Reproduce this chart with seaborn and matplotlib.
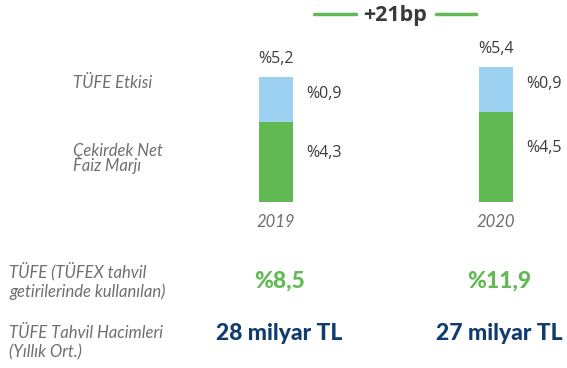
import matplotlib
matplotlib.use("Agg")
import matplotlib.pyplot as plt
import seaborn as sns
import pandas as pd
from matplotlib.lines import Line2D
from matplotlib.transforms import blended_transform_factory

# Data
years = ["2019", "2020"]
core_margin = [4.3, 4.5]        # Çekirdek Net Faiz Marjı
cpi_effect = [0.9, 0.9]         # TÜFE Etkisi
cpi_rate = ["%8,5", "%11,9"]    # TÜFE (TÜFEX tahvil getirilerinde kullanılan)
bond_volume = ["28 milyar TL", "27 milyar TL"]
spread_label = "+21bp"

GREEN = "#60B953"
BLUE = "#9DD1F1"
NAVY = "#0F3C6C"
GRAY = "#6E6E6E"
DARK = "#3A3A3A"

sns.set_theme(style="white")
plt.rcParams["font.family"] = ["Open Sans", "DejaVu Sans"]
LATO = ["Lato", "DejaVu Sans"]

W, H = 567, 368
fig = plt.figure(figsize=(W / 100, H / 100), dpi=100)

# bar axes: truncated value axis, bars start at 2.7
base_px = 202
px_per_unit = 50
ymin = 2.7
ax = fig.add_axes([0, (H - base_px) / H, 1, base_px / H])

df = pd.DataFrame({
    "year": years,
    "core": core_margin,
    "cpi": cpi_effect,
})
df["total"] = df["core"] + df["cpi"]

bar_w = 34 / 220
sns.barplot(data=df, x="year", y="total", order=years, color=BLUE,
            saturation=1, width=bar_w, ax=ax, linewidth=0)
sns.barplot(data=df, x="year", y="core", order=years, color=GREEN,
            saturation=1, width=bar_w, ax=ax, linewidth=0)

ax.set_xlim(-276 / 220, (W - 276) / 220)
ax.set_ylim(ymin, ymin + base_px / px_per_unit)
ax.axis("off")

fmt = lambda v: "%" + f"{v:.1f}".replace(".", ",")

for i, row in df.iterrows():
    ax.text(i, row["total"] + 0.36, fmt(row["total"]), ha="center", va="center",
            fontsize=11.5, color=DARK)
    ax.text(i + 0.136, row["core"] + row["cpi"] / 2 + 0.12, fmt(row["cpi"]),
            ha="left", va="center", fontsize=11.5, color=DARK)
    ax.text(i + 0.136, (ymin + row["core"]) / 2 + 0.18, fmt(row["core"]),
            ha="left", va="center", fontsize=11.5, color=DARK)
    ax.text(i, ymin - 0.4, row["year"], ha="center", va="center",
            fontsize=12, color=GRAY, style="italic", family=LATO)

# overlay in pixel coordinates for the annotation layout
ov = fig.add_axes([0, 0, 1, 1], facecolor="none")
ov.set_xlim(0, W)
ov.set_ylim(H, 0)
ov.axis("off")

ov.text(395, 15, spread_label, ha="center", va="center", fontsize=15.5,
        fontweight="bold", color=DARK)
ov.add_line(Line2D([314, 356], [14, 14], color=GREEN, lw=2.5))
ov.add_line(Line2D([436, 476], [14, 14], color=GREEN, lw=2.5))

lab_font = dict(color=GRAY, style="italic", fontsize=12, family=LATO,
                ha="left", va="center")
ov.text(73, 83, "TÜFE Etkisi", **lab_font)
ov.text(73, 151, "Çekirdek Net", **lab_font)
ov.text(73, 166, "Faiz Marjı", **lab_font)
ov.text(9, 272, "TÜFE (TÜFEX tahvil", **lab_font)
ov.text(9, 292, "getirilerinde kullanılan)", **lab_font)
ov.text(9, 333, "TÜFE Tahvil Hacimleri", **lab_font)
ov.text(9, 352, "(Yıllık Ort.)", **lab_font)

# bottom rows share the bar columns' x positions
tr = blended_transform_factory(ax.transData, ov.transData)
for i in range(len(years)):
    ax.text(i + 0.015, 281, cpi_rate[i], transform=tr, ha="center", va="center",
            fontsize=16.5, fontweight=900, color=GREEN, family=LATO)
    ax.text(i + 0.015, 334, bond_volume[i], transform=tr, ha="center", va="center",
            fontsize=16.5, fontweight=900, color=NAVY, family=LATO)

fig.savefig("out.png", dpi=100)
